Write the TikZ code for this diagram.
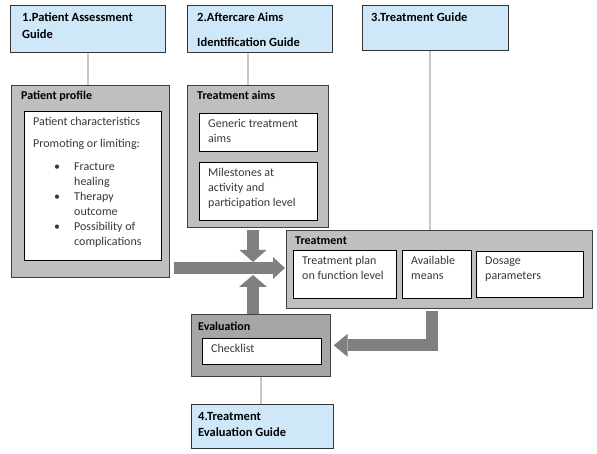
\documentclass[tikz,border=0pt]{standalone}
\usepackage{fontspec}
\setmainfont{Carlito}
\usetikzlibrary{arrows.meta}
\definecolor{guideblue}{RGB}{206,232,250}
\definecolor{panelgrey}{RGB}{191,191,191}
\definecolor{evalgrey}{RGB}{166,166,166}
\definecolor{arrowgrey}{RGB}{128,128,128}
\definecolor{linkgrey}{RGB}{200,200,200}
\definecolor{bodytext}{RGB}{56,56,56}

\tikzset{
  guide/.style={draw=black!80, fill=guideblue, line width=0.6pt, anchor=north west, inner sep=0pt},
  panel/.style={draw=black!75, fill=panelgrey, line width=0.6pt, anchor=north west, inner sep=0pt},
  card/.style={draw=black, fill=white, line width=0.6pt, anchor=north west, inner sep=0pt},
  guidetext/.style={anchor=north west, inner sep=0pt, align=left, font=\fontsize{12.5}{16.5}\selectfont\bfseries},
  head/.style={anchor=north west, inner sep=0pt, font=\fontsize{12}{14}\selectfont\bfseries},
  body/.style={anchor=north west, inner sep=0pt, align=left, text=bodytext, font=\fontsize{12}{15}\selectfont},
  link/.style={draw=linkgrey, line width=2pt},
  block/.style={draw=arrowgrey, line width=12pt},
}

\begin{document}
\begin{tikzpicture}[x=1pt,y=-1pt]
    \useasboundingbox (0,0) rectangle (597,454);
    % guides
    \node[guide, minimum width=155pt, minimum height=47pt] (g1) at (10,5) {};
    \node[guide, minimum width=145pt, minimum height=47pt] (g2) at (187,5) {};
    \node[guide, minimum width=146pt, minimum height=45pt] (g3) at (362,5) {};
    \node[guide, minimum width=142pt, minimum height=44pt] (g4) at (191,404) {};
    \node[guidetext] (g1t) at (22,13) {1.Patient Assessment\\Guide};
    \node[guidetext] (g2t) at (197,13) {2.Aftercare Aims\\[8pt]Identification Guide};
    \node[guidetext] (g3t) at (371,13) {3.Treatment Guide};
    \node[guidetext] (g4t) at (198,412) {4.Treatment\\Evaluation Guide};
    % panels
    \node[panel, minimum width=158pt, minimum height=192pt] (profile) at (11,85) {};
    \node[panel, minimum width=141pt, minimum height=142pt] (aims) at (187,85) {};
    \node[panel, minimum width=306pt, minimum height=78pt] (treat) at (286,230) {};
    \node[panel, fill=evalgrey, minimum width=139pt, minimum height=62pt] (eval) at (191,314) {};
    \node[head] (profileh) at (21,91) {Patient profile};
    \node[head] (aimsh) at (197,91) {Treatment aims};
    \node[head] (treath) at (295,237) {Treatment};
    \node[head] (evalh) at (198,322) {Evaluation};
    % cards
    \node[card, minimum width=137pt, minimum height=149pt] (chars) at (24,111) {};
    \node[card, minimum width=118pt, minimum height=38pt] (generic) at (199,113) {};
    \node[card, minimum width=118pt, minimum height=58pt] (miles) at (199,162) {};
    \node[card, minimum width=103pt, minimum height=48pt] (plan) at (293,250) {};
    \node[card, minimum width=69pt, minimum height=48pt] (means) at (402,250) {};
    \node[card, minimum width=107pt, minimum height=46pt] (dosage) at (476,251) {};
    \node[card, minimum width=119pt, minimum height=26pt] (check) at (202,338) {};
    \node[body] (charst) at (33,117) {Patient characteristics\\[7pt]Promoting or limiting:\\[8pt]
      \makebox[41pt][l]{\hspace*{21pt}\textbullet}Fracture\\\hspace*{41pt}healing\\
      \makebox[41pt][l]{\hspace*{21pt}\textbullet}Therapy\\\hspace*{41pt}outcome\\
      \makebox[41pt][l]{\hspace*{21pt}\textbullet}Possibility of\\\hspace*{41pt}complications};
    \node[body] (generict) at (208,119) {Generic treatment\\aims};
    \node[body] (milest) at (208,168) {Milestones at\\activity and\\participation level};
    \node[body] (plant) at (302,256) {Treatment plan\\on function level};
    \node[body] (meanst) at (411,256) {Available\\means};
    \node[body] (dosaget) at (485,257) {Dosage\\parameters};
    \node[body] (checkt) at (211,344) {Checklist};
    % links
    \draw[link] (g1.south) -- (g1.south |- profile.north);
    \draw[link] ([xshift=-12pt]g2.south) -- ([xshift=-12pt]g2.south |- aims.north);
    \draw[link] ([xshift=-5pt]g3.south) -- ([xshift=-5pt]g3.south |- treat.north);
    \draw[link] (eval.south) -- (eval.south |- g4.north);
    % block arrows
    \coordinate (hub) at (253,268);
    \draw[block, -{Triangle[length=12pt,width=27pt,line width=0pt]}] ([yshift=-2pt]aims.south -| hub) -- ([yshift=6pt]hub);
    \draw[block, -{Triangle[length=12pt,width=28pt,line width=0pt]}] (eval.north -| hub) -- ([yshift=-7pt]hub);
    \draw[block, -{Triangle[length=12pt,width=22pt,line width=0pt]}] ([xshift=4pt]profile.east |- hub) -- ([xshift=-1pt]treat.west |- hub);
    \draw[block, -{Triangle[length=14pt,width=23pt,line width=0pt]}] ([xshift=-7.5pt,yshift=-2pt]treat.south) |- ([xshift=3pt]eval.east);
\end{tikzpicture}
\end{document}
